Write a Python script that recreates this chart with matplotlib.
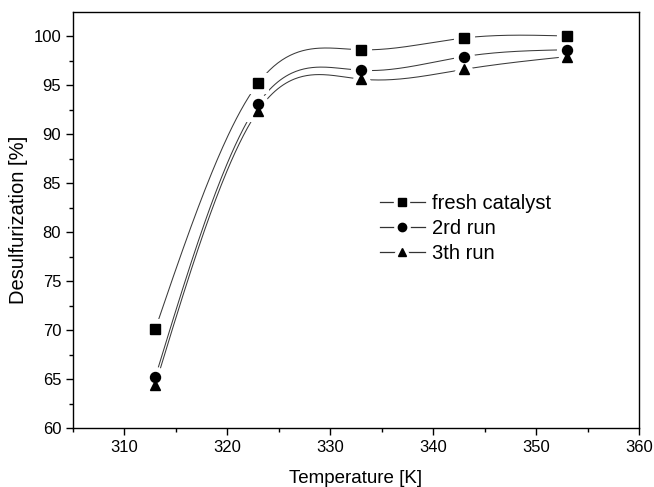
import matplotlib
matplotlib.use('Agg')

import numpy as np
import matplotlib.pyplot as plt
from matplotlib.ticker import MultipleLocator
from matplotlib.lines import Line2D
from matplotlib.legend_handler import HandlerTuple

plt.rcParams['font.family'] = ['Liberation Sans', 'DejaVu Sans']

# ============================================================
# DATA
# ============================================================

temperature = [313, 323, 333, 343, 353]

fresh_catalyst = [70.1, 95.2, 98.6, 99.8, 100.0]
run_2nd = [65.2, 93.1, 96.5, 97.9, 98.6]
run_3th = [64.4, 92.4, 95.6, 96.6, 97.9]

series_labels = ['fresh catalyst', '2rd run', '3th run']
series_markers = ['s', 'o', '^']


# natural cubic spline used only to draw the smooth connecting line
def smooth_line(x, y, n=300):
    x = np.asarray(x, float)
    y = np.asarray(y, float)
    k = len(x)
    h = np.diff(x)
    A = np.zeros((k, k))
    b = np.zeros(k)
    A[0, 0] = 1
    A[-1, -1] = 1
    for i in range(1, k - 1):
        A[i, i - 1] = h[i - 1]
        A[i, i] = 2 * (h[i - 1] + h[i])
        A[i, i + 1] = h[i]
        b[i] = 6 * ((y[i + 1] - y[i]) / h[i] - (y[i] - y[i - 1]) / h[i - 1])
    M = np.linalg.solve(A, b)
    xs = np.linspace(x[0], x[-1], n)
    idx = np.clip(np.searchsorted(x, xs) - 1, 0, k - 2)
    x0 = x[idx]
    x1 = x[idx + 1]
    hh = x1 - x0
    ys = (M[idx] * (x1 - xs) ** 3 / (6 * hh)
          + M[idx + 1] * (xs - x0) ** 3 / (6 * hh)
          + (y[idx] / hh - M[idx] * hh / 6) * (x1 - xs)
          + (y[idx + 1] / hh - M[idx + 1] * hh / 6) * (xs - x0))
    return xs, ys


# ============================================================
# PLOT
# ============================================================

fig = plt.figure(figsize=(6.54, 4.87), dpi=100)
ax = fig.add_axes([0.1116, 0.1211, 0.8654, 0.8542])

all_series = [fresh_catalyst, run_2nd, run_3th]

handles = []

for values, label, marker in zip(all_series, series_labels, series_markers):

    xs, ys = smooth_line(temperature, values)

    ax.plot(xs, ys, color='#3a3a3a', lw=0.75, zorder=1)

    # white halo to give the gap around each symbol
    ax.plot(temperature, values, ls='none', marker=marker,
            markersize=7.2, color='white', markeredgecolor='white',
            markeredgewidth=8, zorder=2)

    ax.plot(temperature, values, ls='none', marker=marker,
            markersize=7.2, color='black', zorder=3)

    # legend handle: line, white gap, symbol
    h_line = Line2D([], [], color='#333333', lw=0.9)
    h_gap = Line2D([], [], ls='none', marker=marker, markersize=6,
                   color='white', markeredgecolor='white',
                   markeredgewidth=6)
    h_mark = Line2D([], [], ls='none', marker=marker, markersize=6,
                    color='black')
    handles.append((h_line, h_gap, h_mark))

ax.set_xlim(305, 360)
ax.set_ylim(60, 102.45)

ax.xaxis.set_major_locator(MultipleLocator(10))
ax.xaxis.set_minor_locator(MultipleLocator(5))
ax.yaxis.set_major_locator(MultipleLocator(5))
ax.yaxis.set_minor_locator(MultipleLocator(2.5))

ax.tick_params(which='both', direction='out', top=False, right=False,
               labelsize=12)
ax.tick_params(which='major', length=5, width=1)
ax.tick_params(which='minor', length=3, width=1)

for s in ax.spines.values():
    s.set_linewidth(1)

ax.set_xlabel('Temperature [K]', fontsize=13.5, labelpad=11)
ax.set_ylabel('Desulfurization [%]', fontsize=14.5, labelpad=4)

ax.legend(handles, series_labels,
          handler_map={tuple: HandlerTuple(ndivide=1)},
          loc='upper left', bbox_to_anchor=(0.511, 0.606), frameon=False,
          fontsize=14.5, handlelength=2.2, handletextpad=0.35,
          labelspacing=0.3)

plt.savefig('out.png', dpi=100)
